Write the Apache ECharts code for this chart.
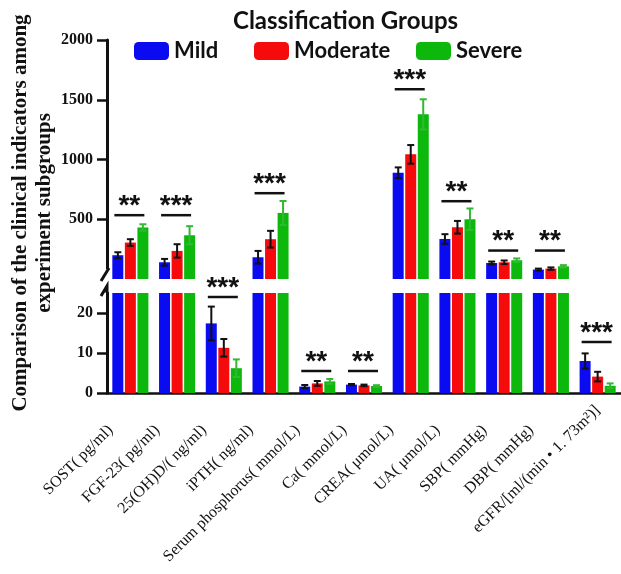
<!DOCTYPE html>
<html>
<head>
<meta charset="utf-8">
<script src="https://cdn.jsdelivr.net/npm/echarts@6/dist/echarts.min.js"></script>
<style>
html, body { margin: 0; padding: 0; background: #fff; }
#chart { width: 621px; height: 574px; }
</style>
</head>
<body>
<div id="chart"></div>
<script>
var categories = ['SOST( pg/ml)', 'FGF-23( pg/ml)', '25(OH)D/( ng/ml)', 'iPTH( ng/ml)', 'Serum phosphorus( mmol/L)', 'Ca( mmol/L)', 'CREA( μmol/L)', 'UA( μmol/L)', 'SBP( mmHg)', 'DBP( mmHg)', 'eGFR/[ml/(min • 1. 73m²)]']
var groupNames = ['Mild', 'Moderate', 'Severe']
var mildMean = [199, 140, 17.4, 182, 1.6, 2.1, 889, 335, 134, 79, 8.0]
var mildSd = [25, 28, 4.2, 53, 0.4, 0.15, 45, 40, 12, 8, 1.9]
var moderateMean = [305, 235, 11.3, 333, 2.4, 1.9, 1043, 433, 140, 87, 4.1]
var moderateSd = [28, 56, 2.2, 70, 0.6, 0.2, 78, 53, 15, 10, 1.2]
var severeMean = [431, 366, 6.2, 553, 2.9, 1.75, 1378, 500, 157, 106, 1.8]
var severeSd = [27, 76, 2.2, 100, 0.6, 0.2, 126, 90, 15, 10, 0.6]
var sigText = ['**', '***', '***', '***', '**', '**', '***', '**', '**', '**', '***']
var sigLevel = [534, 534, 24, 718, 5.5, 5.5, 1588, 651, 238, 238, 12.75]
var upperTicks = [500, 1000, 1500, 2000]
var lowerTicks = [0, 10, 20]
var breakValue = 25

var means = [mildMean, moderateMean, severeMean]
var sds = [mildSd, moderateSd, severeSd]
var colors = ['#0b0bf2', '#f50b0b', '#0db80d']
var errColors = ['#111', '#111', '#33b833']
var legendLeft = [134, 254, 416]

function renderError(params, api) {
  var c = api.value(0)
  var m = api.value(1)
  var s = api.value(2)
  var g = api.value(3)
  var x = api.coord([c, m])[0] + (g - 1) * 12.5
  var yTop = api.coord([c, m + s])[1]
  var yBot = api.coord([c, Math.max(m - s, 0)])[1]
  var st = { stroke: errColors[g], lineWidth: 2 }
  return {
    type: 'group',
    children: [
      { type: 'line', shape: { x1: x, y1: yTop, x2: x, y2: yBot }, style: st },
      { type: 'line', shape: { x1: x - 3.5, y1: yTop, x2: x + 3.5, y2: yTop }, style: st },
      { type: 'line', shape: { x1: x - 3.5, y1: yBot, x2: x + 3.5, y2: yBot }, style: st }
    ]
  }
}

function renderSig(params, api) {
  var c = api.value(0)
  var p = api.coord([c, api.value(1)])
  return {
    type: 'group',
    children: [
      { type: 'line', shape: { x1: p[0] - 16, y1: p[1], x2: p[0] + 14, y2: p[1] }, style: { stroke: '#111', lineWidth: 2.5 } },
      { type: 'text', style: { text: sigText[api.value(2)], x: p[0] - 1, y: p[1] - 9, align: 'center', verticalAlign: 'middle', font: 'bold 28px "Liberation Sans"', fill: '#111' } }
    ]
  }
}

var series = []
;[0, 1].forEach(function(gi) {
  groupNames.forEach(function(name, i) {
    series.push({
      name: name,
      type: 'bar',
      xAxisIndex: gi,
      yAxisIndex: gi,
      barWidth: 11,
      barGap: '14%',
      clip: true,
      itemStyle: { color: colors[i] },
      data: means[i].map(function(v) { return gi === 0 ? (v > breakValue ? v : '-') : v })
    })
  })
  var err = []
  means.forEach(function(arr, g) {
    arr.forEach(function(v, c) {
      if ((gi === 0) === (v > breakValue)) err.push([c, v, sds[g][c], g])
    })
  })
  series.push({ type: 'custom', xAxisIndex: gi, yAxisIndex: gi, renderItem: renderError, data: err, z: 5 })
  var sig = []
  sigLevel.forEach(function(v, c) {
    if ((gi === 0) === (v > breakValue)) sig.push([c, v, c])
  })
  series.push({ type: 'custom', xAxisIndex: gi, yAxisIndex: gi, renderItem: renderSig, data: sig, z: 5 })
})

var labelFont = { fontFamily: 'Liberation Serif', fontWeight: 'bold', fontSize: 16, color: '#111' }

var chart = echarts.init(document.getElementById('chart'))
chart.setOption({
  animation: false,
  title: {
    text: 'Classification Groups',
    left: 233,
    top: 9,
    padding: 0,
    textStyle: { fontFamily: 'Lato', fontWeight: 'bold', fontSize: 24, color: '#111' }
  },
  legend: groupNames.map(function(n, i) {
    return {
      data: [n],
      left: legendLeft[i],
      top: 40,
      padding: 0,
      itemWidth: 35,
      itemHeight: 18,
      icon: 'roundRect',
      selectedMode: false,
      textStyle: { fontFamily: 'Lato', fontWeight: 'bold', fontSize: 22, color: '#111' }
    }
  }),
  grid: [
    { left: 107, width: 519, top: 40, height: 239 },
    { left: 107, width: 519, top: 293, height: 100 }
  ],
  xAxis: [
    { gridIndex: 0, type: 'category', data: categories, show: false },
    {
      gridIndex: 1,
      type: 'category',
      data: categories.map(function(c, i) {
        return i === categories.length - 1 ? { value: c, textStyle: { padding: [0, 0, 0, 0] } } : c
      }),
      axisLine: { lineStyle: { color: '#111', width: 2.5 } },
      axisTick: { alignWithLabel: true, length: 9, lineStyle: { color: '#111', width: 2.5 } },
      axisLabel: {
        interval: 0,
        rotate: 45,
        margin: 15,
        padding: [7, 28, 0, 0],
        fontFamily: 'Liberation Serif',
        fontSize: 16,
        color: '#111'
      }
    }
  ],
  yAxis: [
    {
      gridIndex: 0,
      type: 'value',
      min: 0,
      max: 2000,
      splitLine: { show: false },
      axisLine: { show: true, lineStyle: { color: '#111', width: 3 } },
      axisTick: { show: true, length: 10, customValues: upperTicks, lineStyle: { color: '#111', width: 2.5 } },
      axisLabel: Object.assign({ customValues: upperTicks, margin: 14, formatter: function(v) { return String(v) } }, labelFont)
    },
    {
      gridIndex: 1,
      type: 'value',
      min: 0,
      max: breakValue,
      splitLine: { show: false },
      axisLine: { show: true, lineStyle: { color: '#111', width: 3 } },
      axisTick: { show: true, length: 10, customValues: lowerTicks, lineStyle: { color: '#111', width: 2.5 } },
      axisLabel: Object.assign({ customValues: lowerTicks, margin: 14 }, labelFont)
    }
  ],
  graphic: [
    {
      type: 'text',
      x: 33,
      y: 213,
      rotation: Math.PI / 2,
      style: {
        text: 'Comparison of the clinical indicators among\nexperiment subgroups',
        align: 'center',
        verticalAlign: 'middle',
        font: 'bold 21px "Liberation Serif"',
        lineHeight: 24,
        fill: '#111'
      }
    },
    { type: 'rect', shape: { x: 100, y: 269, width: 12, height: 12 }, style: { fill: '#fff' }, z: 10 },
    { type: 'line', shape: { x1: 109, y1: 268, x2: 101, y2: 281 }, style: { stroke: '#111', lineWidth: 3 }, z: 11 },
    { type: 'polyline', shape: { points: [[101, 296], [107, 286], [107, 293]] }, style: { stroke: '#111', lineWidth: 3, fill: null }, z: 11 }
  ],
  series: series
})
</script>
</body>
</html>
